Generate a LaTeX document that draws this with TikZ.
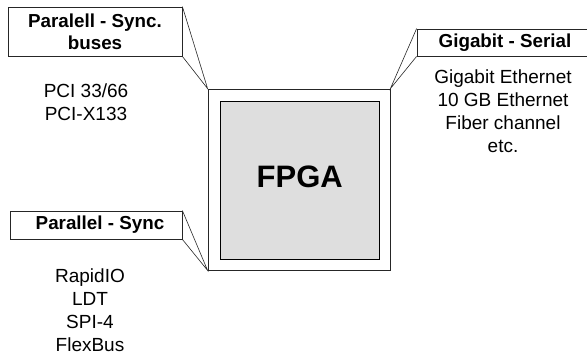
\documentclass[tikz,border=0pt]{standalone}
\usepackage{fontspec}
\setmainfont{Liberation Sans}
\begin{document}
\begin{tikzpicture}[x=1pt,y=-1pt,
  edge/.style={draw=black!85, line width=0.8pt},
  titlebox/.style={edge, fill=white, inner sep=0pt},
  titletext/.style={inner sep=0pt, align=center,
    font=\fontsize{18.8}{22}\selectfont\bfseries},
  listtext/.style={inner sep=0pt, align=center,
    font=\fontsize{19}{23}\selectfont},
  callout/.style={draw=black!85, line width=0.6pt}]
\useasboundingbox (0,0) rectangle (587,357);
\clip (0,0) rectangle (587,357);

% FPGA package and die
\node[edge, fill=white, minimum width=182pt, minimum height=181pt, inner sep=0pt]
  (pkg) at (299,179.5) {};
\node[draw=black, line width=0.8pt, fill=black!13, minimum width=159pt,
  minimum height=158pt, inner sep=0pt] (die) at (299.5,180) {};
\node[inner sep=0pt, font=\fontsize{31}{31}\selectfont\bfseries]
  (chip) at (299.7,177) {FPGA};

% interface headings
\node[titlebox, minimum width=174pt, minimum height=49pt] (par1) at (95,31.5) {};
\node[titletext] (par1t) at (95,31.8) {Paralell - Sync.\\buses};
\node[titlebox, minimum width=176pt, minimum height=27pt] (ser) at (505,42.5) {};
\node[titletext] (sert) at (505,42.3) {Gigabit - Serial};
\node[titlebox, minimum width=172pt, minimum height=28pt] (par2) at (96,225) {};
\node[titletext] (par2t) at (100,224.9) {Parallel - Sync};

% callout wedges to the package corners
\draw[callout] (par1.north east) -- (pkg.north west) -- (par1.south east);
\draw[callout] (ser.north west) -- (pkg.north east) -- (ser.south west);
\draw[callout] (par2.north east) -- (pkg.south west) -- (par2.south east);

% standards of each interface
\node[listtext] (l1) at (86,102.3) {PCI 33/66\\PCI-X133};
\node[listtext] (l2) at (503,111.3)
  {Gigabit Ethernet\\10 GB Ethernet\\Fiber channel\\etc.};
\node[listtext] (l3) at (90,310.3) {RapidIO\\LDT\\SPI-4\\FlexBus};
\end{tikzpicture}
\end{document}
